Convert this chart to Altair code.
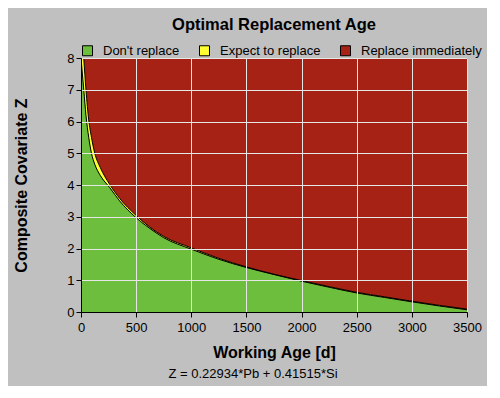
import altair as alt
import pandas as pd
import json

# Working age [d]
age = [0, 25, 45, 70, 95, 125, 175, 260, 350, 500, 625, 750, 1000, 1250, 1500,
       1750, 2000, 2250, 2500, 2750, 3000, 3250, 3500]
# Lower boundary (top of "Don't replace")
z_lower = [8.0, 7.0, 6.2, 5.5, 5.0, 4.65, 4.3, 3.92, 3.5, 2.97, 2.63, 2.34, 1.98,
           1.66, 1.4, 1.18, 0.97, 0.78, 0.6, 0.46, 0.32, 0.19, 0.07]
# Upper boundary (bottom of "Replace immediately")
z_upper = [9.3, 8.0, 7.0, 6.05, 5.5, 5.0, 4.55, 4.02, 3.58, 3.04, 2.67, 2.38, 2.02,
           1.69, 1.42, 1.19, 0.99, 0.8, 0.62, 0.48, 0.34, 0.21, 0.09]

categories = ["Don't replace", "Expect to replace", "Replace immediately"]
colors = ["#6cbe3c", "#ffff33", "#a52214"]
x_ticks = [0, 500, 1000, 1500, 2000, 2500, 3000, 3500]
y_ticks = [0, 1, 2, 3, 4, 5, 6, 7, 8]

df = pd.DataFrame({"age": age, "lower": z_lower, "upper": z_upper})

FONT = "Liberation Sans"
W, H = 386, 254

color_scale = alt.Scale(domain=categories, range=colors)
legend = alt.Legend(orient="top", title=None, symbolType="square", symbolSize=100,
                    symbolStrokeColor="black", symbolStrokeWidth=1, labelFontSize=13,
                    labelFont=FONT, labelColor="black", columnPadding=17, labelOffset=9,
                    offset=0)
color_enc = alt.Color("cat:N", scale=color_scale, legend=legend)

x_axis = alt.Axis(values=x_ticks, title="Working Age [d]", titleFontSize=16,
                  titleFont=FONT, titleFontWeight="bold", titleColor="black",
                  labelFontSize=13, labelFont=FONT, labelColor="black",
                  labelFlush=False, gridColor="#e6e6e6", gridOpacity=1,
                  tickColor="black", domainColor="black", tickSize=5,
                  labelPadding=4, titlePadding=10, zindex=1, format="d")
y_axis = alt.Axis(values=y_ticks, title="Composite Covariate Z", titleFontSize=16,
                  titleFont=FONT, titleFontWeight="bold", titleColor="black",
                  labelFontSize=13, labelFont=FONT, labelColor="black",
                  labelFlush=False, gridColor="#e6e6e6", gridOpacity=1,
                  tickColor="black", domainColor="black", tickSize=5,
                  titlePadding=37, zindex=1)
x_scale = alt.Scale(domain=[0, 3500], nice=False)
y_scale = alt.Scale(domain=[0, 8], nice=False)


def X():
    return alt.X("age:Q", scale=x_scale, axis=x_axis)


def Y(field):
    return alt.Y(field, type="quantitative", scale=y_scale, axis=y_axis)


base = alt.Chart(df)

red = base.mark_area(clip=True, interpolate="monotone").transform_calculate(
    cat=json.dumps(categories[2])
).encode(x=X(), y=Y("upper"), y2=alt.datum(8), color=color_enc)
yellow = base.mark_area(clip=True, interpolate="monotone").transform_calculate(
    cat=json.dumps(categories[1])
).encode(x=X(), y=Y("upper"), y2="lower:Q", color=color_enc)
green = base.mark_area(clip=True, interpolate="monotone").transform_calculate(
    cat=json.dumps(categories[0])
).encode(x=X(), y=Y("lower"), y2=alt.datum(0), color=color_enc)
line_lo = base.mark_line(clip=True, color="black", strokeWidth=1, interpolate="monotone").encode(
    x=X(), y=Y("lower"))
line_hi = base.mark_line(clip=True, color="black", strokeWidth=1, interpolate="monotone").encode(
    x=X(), y=Y("upper"))

formula = alt.Chart(pd.DataFrame({"t": ["Z = 0.22934*Pb + 0.41515*Si"]})).mark_text(
    font=FONT, fontSize=13, color="black", align="center", baseline="middle"
).encode(text="t:N", x=alt.value(172), y=alt.value(316))

chart = alt.layer(red, yellow, green, line_lo, line_hi, formula).properties(
    width=W, height=H,
    padding={"left": 5, "top": 8, "right": 5, "bottom": 5},
    title=alt.TitleParams("Optimal Replacement Age", font=FONT, fontSize=16.5,
                          fontWeight="bold", color="black", offset=11),
).configure(background="#c0c0c0").configure_view(fill="#a52214", stroke="black", strokeWidth=1)

chart.save("out.html", embed_options={"renderer": "svg", "actions": False})
